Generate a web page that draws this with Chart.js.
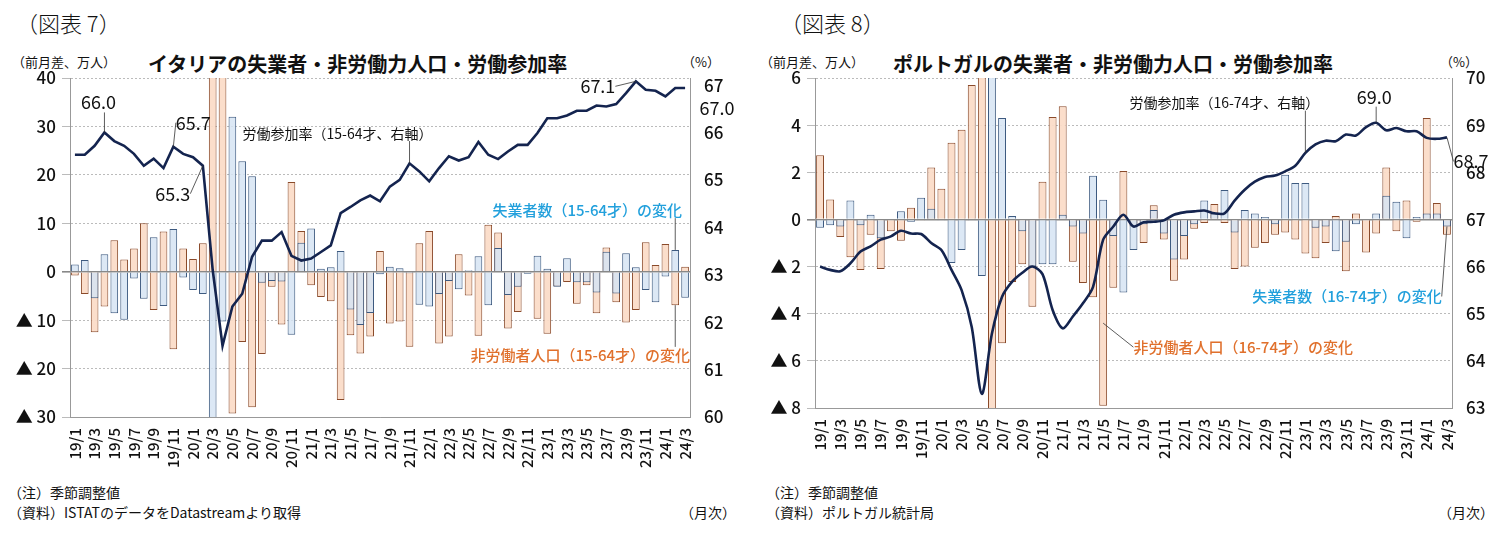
<!DOCTYPE html>
<html><head><meta charset="utf-8">
<script src="https://cdn.jsdelivr.net/npm/chart.js@4"></script>
<style>
body{margin:0;width:1503px;height:538px;background:#fff;position:relative;font-family:"Noto Sans CJK JP",sans-serif;color:#111;overflow:hidden}
.t{position:absolute;white-space:nowrap}
.box{position:absolute}
</style></head><body>
<div class="t" style="left:16px;top:6px;font-size:22px;font-weight:300">（図表 7）</div>
<div class="t" style="left:780px;top:6px;font-size:22px;font-weight:300">（図表 8）</div>
<div class="t" style="left:148px;top:49px;font-size:20px;font-weight:700">イタリアの失業者・非労働力人口・労働参加率</div>
<div class="t" style="left:893px;top:49px;font-size:20px;font-weight:700">ポルトガルの失業者・非労働力人口・労働参加率</div>
<div class="t" style="left:12px;top:52px;font-size:13px">（前月差、万人）</div>
<div class="t" style="left:682px;top:52px;font-size:13px">（%）</div>
<div class="t" style="left:760px;top:52px;font-size:13px">（前月差、万人）</div>
<div class="t" style="left:1440px;top:52px;font-size:13px">（%）</div>
<div class="t" style="left:8px;top:482px;font-size:14px">（注）季節調整値</div>
<div class="t" style="left:8px;top:502px;font-size:14px">（資料）ISTATのデータをDatastreamより取得</div>
<div class="t" style="left:680px;top:502px;font-size:14px">（月次）</div>
<div class="t" style="left:766px;top:482px;font-size:14px">（注）季節調整値</div>
<div class="t" style="left:766px;top:502px;font-size:14px">（資料）ポルトガル統計局</div>
<div class="t" style="left:1438px;top:502px;font-size:14px">（月次）</div>
<div class="box" style="left:0;top:60px;width:745px;height:412px"><canvas id="c1"></canvas></div>
<div class="box" style="left:760px;top:60px;width:743px;height:403px"><canvas id="c2"></canvas></div>
<script>
const months = ["19/1","19/2","19/3","19/4","19/5","19/6","19/7","19/8","19/9","19/10","19/11","19/12",
"20/1","20/2","20/3","20/4","20/5","20/6","20/7","20/8","20/9","20/10","20/11","20/12",
"21/1","21/2","21/3","21/4","21/5","21/6","21/7","21/8","21/9","21/10","21/11","21/12",
"22/1","22/2","22/3","22/4","22/5","22/6","22/7","22/8","22/9","22/10","22/11","22/12",
"23/1","23/2","23/3","23/4","23/5","23/6","23/7","23/8","23/9","23/10","23/11","23/12",
"24/1","24/2","24/3"];

const itUnemployed = [1.5,2.4,-5.5,3.6,-8.6,-9.9,-1.4,-5.6,7.1,-7.1,8.8,-1.2,-3.8,-4.6,-45,-10.3,32,22.8,19.7,-2.3,-1.9,-2,-13,6,8.9,0.6,0.9,4.3,-7.8,-11,-8.5,-0.5,
1,0.7,-0.3,-6.8,-7.2,-4.6,-1.9,-3.6,0.3,3.2,-6.9,4.9,-4.8,-3.1,-0.4,3.3,0.6,-3.1,2.8,-2.2,-2.2,-4.3,4.1,-4.5,3.8,0.9,-3.8,-6.3,-1,4.5,-5.4];
const itInactive = [-0.8,-4.6,-12.5,-7.2,6.5,2.5,4.8,10,-7.9,8.3,-16,4.8,2.6,5.9,60,60,-29.3,-14.5,-28,-17,-3.1,-10.9,18.5,8.4,-2.8,-5.2,-6.1,-26.5,-13.1,-16.9,-13.4,4.3,
-10.7,-10.3,-15.5,5.9,8.4,-14.8,-13.4,3.6,-4.9,-13.2,9.7,8.1,-11.7,-8.3,0.2,-9.7,-12.8,-3,-2.1,-6.6,-2.8,-8.6,5,-6.3,-10.5,-7.9,6.1,1.4,5.7,-6.9,1];
const itRate = [65.53,65.53,65.72,66.0,65.82,65.72,65.55,65.3,65.45,65.25,65.7,65.55,65.48,65.3,63.1,61.5,62.33,62.6,63.38,63.72,63.72,63.9,63.4,63.3,63.34,63.48,63.62,64.3,64.43,64.57,64.67,64.55,
64.86,65.0,65.35,65.18,64.97,65.25,65.5,65.41,65.48,65.8,65.53,65.44,65.6,65.74,65.74,65.99,66.3,66.3,66.36,66.46,66.46,66.57,66.55,66.6,66.83,67.08,66.9,66.88,66.76,66.94,66.94];

const ptUnemployed = [-0.35,-0.25,-0.3,0.8,-0.25,0.2,-0.8,0,0.35,-0.1,0.92,0.45,-0.05,-1.85,-1.3,-0.05,-2.4,10,4.3,0.15,-0.5,-2.0,-1.9,-1.9,0.2,-0.3,-0.6,1.85,
0.83,-0.7,-3.1,-1.3,-0.2,0.4,-0.6,-1.7,-0.7,-0.2,0.8,0.25,1.25,-0.55,0.4,0.25,0.1,-0.2,1.9,1.55,1.55,-0.35,-0.3,-1.35,-0.95,-0.2,-0.05,0.25,1.0,0.75,-0.8,0.1,0.25,0.25,-0.3];
const ptInactive = [2.72,0.85,-0.75,-1.6,-2.15,-0.65,-2.1,-0.5,-0.9,0.5,-0.05,2.2,1.3,3.25,3.8,5.7,9,-12,-5.25,-2.65,-1.9,-3.7,1.6,4.35,4.8,-1.8,-2.7,-3.3,
-7.9,-2.9,2.05,-0.3,-1.0,0.6,-0.85,-2.6,-1.7,-0.4,-0.15,0.65,-0.15,-2.1,-2.0,-1.2,-1.0,-0.65,-0.55,-0.85,-1.45,-1.65,-1.0,0.15,-2.2,0.25,-1.4,-0.6,2.2,-0.5,0.8,-0.1,4.3,0.7,-0.65];
const ptRate = [66.0,65.93,65.9,66.07,66.32,66.43,66.57,66.64,66.76,66.7,66.69,66.5,66.35,65.93,65.5,64.72,63.3,64.58,65.36,65.68,65.87,66.0,65.84,65.08,64.69,64.94,65.22,65.57,
66.57,66.85,67.1,66.85,66.94,66.95,66.98,67.1,67.15,67.17,67.19,67.13,67.13,67.4,67.63,67.8,67.9,67.93,68.02,68.14,68.41,68.59,68.67,68.66,68.8,68.78,68.96,69.05,68.89,68.94,68.87,68.87,68.73,68.71,68.74];

const itLeftTicks = [-30,-20,-10,0,10,20,30,40];
const itRightTicks = [60,61,62,63,64,65,66,67];
const ptLeftTicks = [-8,-6,-4,-2,0,2,4,6];
const ptRightTicks = [63,64,65,66,67,68,69,70];

const JP = '"Noto Sans CJK JP", sans-serif';
const BLUE = '#22a0dc', ORANGE = '#e0702c';
const fmtLeft = v => v < 0 ? '▲ ' + (-v) : String(v);

const itNotes = [
 {ds:0,i:3,text:'66.0',dx:-6,dy:-30,size:18},
 {ds:0,i:10,text:'65.7',dx:20,dy:-24,size:18},
 {ds:0,i:13,text:'65.3',dx:-30,dy:28,size:18},
 {ds:0,i:57,text:'67.1',dx:-38,dy:5,size:18},
 {ds:0,i:62,text:'67.0',dx:32,dy:20,size:18,noLine:true},
 {ds:0,i:34,text:'労働参加率（15-64才、右軸）',dx:-72,dy:-30,size:14},
 {ds:1,i:61,text:'失業者数（15-64才）の変化',dx:-88,dy:-40,size:15,color:BLUE,bold:true},
 {ds:2,i:61,text:'非労働者人口（15-64才）の変化',dx:-95,dy:50,size:15,color:ORANGE,bold:true},
];
const ptNotes = [
 {ds:0,i:55,text:'69.0',dx:-2,dy:-26,size:18},
 {ds:0,i:62,text:'68.7',dx:24,dy:24,size:18},
 {ds:0,i:48,text:'労働参加率（16-74才、右軸）',dx:-81,dy:-50,size:14},
 {ds:1,i:62,text:'失業者数（16-74才）の変化',dx:-100,dy:70,size:15,color:BLUE,bold:true},
 {ds:2,i:28,v:-4.4,text:'非労働者人口（16-74才）の変化',dx:140,dy:24,size:15,color:ORANGE,bold:true},
];

const notePlugin = {
 id:'notes',
 afterDatasetsDraw(chart, args, opts){
  const ctx = chart.ctx, xs = chart.scales.x;
  (opts.items||[]).forEach(n=>{
    const ds = chart.data.datasets[n.ds];
    const sc = chart.scales[ds.yAxisID];
    const px = xs.getPixelForValue(n.i);
    const val = n.v !== undefined ? n.v : ds.data[n.i];
    const py = sc.getPixelForValue(Math.max(sc.min, Math.min(sc.max, val)));
    const tx = px + n.dx, ty = py + n.dy;
    ctx.save();
    ctx.font = (n.bold?'500 ':'') + n.size + 'px ' + JP;
    const w = ctx.measureText(n.text).width;
    if(!n.noLine){
      let ex = Math.max(tx - w/2, Math.min(tx + w/2, px));
      let ey = py < ty ? ty - n.size*0.55 : ty + n.size*0.55;
      if (Math.abs(n.dx) > w/2) ey = ty;
      ctx.strokeStyle = '#333'; ctx.lineWidth = 0.8;
      ctx.beginPath(); ctx.moveTo(px,py); ctx.lineTo(ex,ey); ctx.stroke();
    }
    ctx.fillStyle = n.color || '#111';
    ctx.textAlign='center'; ctx.textBaseline='middle';
    ctx.fillText(n.text, tx, ty);
    ctx.restore();
  });
 }
};

function make(id, blue, orange, rate, lmin, lmax, lticks, rmin, rmax, rticks, dims, notes, tension){
 const ctx = document.getElementById(id);
 return new Chart(ctx, {
  data:{labels:months, datasets:[
   {type:'line', data:rate, yAxisID:'y2', borderColor:'#14244f', borderWidth:2.6, pointRadius:0, tension:tension, order:0},
   {type:'bar', data:blue, yAxisID:'y', backgroundColor:'rgba(214,228,243,0.85)', borderColor:'#3d5a80', borderWidth:1, grouped:false, barPercentage:0.78, categoryPercentage:1, order:1},
   {type:'bar', data:orange, yAxisID:'y', backgroundColor:'rgba(251,220,200,0.95)', borderColor:'#8a4a2a', borderWidth:1, grouped:false, barPercentage:0.78, categoryPercentage:1, order:2},
  ]},
  options:{
   responsive:true, maintainAspectRatio:false, animation:false,
   layout:{padding:{top:18,left:0,right:0,bottom:0}},
   plugins:{legend:{display:false}, tooltip:{enabled:false}, notes:{items:notes}},
   scales:{
    x:{grid:{display:false}, border:{color:'#999'},
       ticks:{autoSkip:false, maxRotation:90, minRotation:90, color:'#111', font:{size:15, family:JP, weight:'500'},
         callback:(v,i)=> i%2===0 ? months[i] : ''},
       afterFit:s=>{s.height=dims.xh;}},
    y:{position:'left', min:lmin, max:lmax,
       afterBuildTicks:s=>{s.ticks = lticks.map(v=>({value:v}));},
       grid:{color:c=> c.tick && c.tick.value===0 ? '#888' : '#aaa', lineWidth:c=> c.tick && c.tick.value===0 ? 1.6 : 0.8},
       border:{display:true, color:'#999', dash:c=> c.tick && c.tick.value===0 ? [] : [2,2]},
       ticks:{color:'#111', font:{size:17, family:JP, weight:'500'}, callback:v=>fmtLeft(v), padding:6},
       afterFit:s=>{s.width=dims.lw;}},
    y2:{position:'right', min:rmin, max:rmax,
       afterBuildTicks:s=>{s.ticks = rticks.map(v=>({value:v}));},
       grid:{display:false}, border:{color:'#999'},
       ticks:{color:'#111', font:{size:17, family:JP, weight:'500'}, padding:6},
       afterFit:s=>{s.width=dims.rw;}}
   }
  },
  plugins:[notePlugin]
 });
}

make('c1', itUnemployed, itInactive, itRate, -30, 40, itLeftTicks, 60, 67.15, itRightTicks, {lw:70, rw:55, xh:55}, itNotes, 0);
make('c2', ptUnemployed, ptInactive, ptRate, -8, 6, ptLeftTicks, 63, 70, ptRightTicks, {lw:55, rw:51, xh:55}, ptNotes, 0.3);
</script>
</body></html>
